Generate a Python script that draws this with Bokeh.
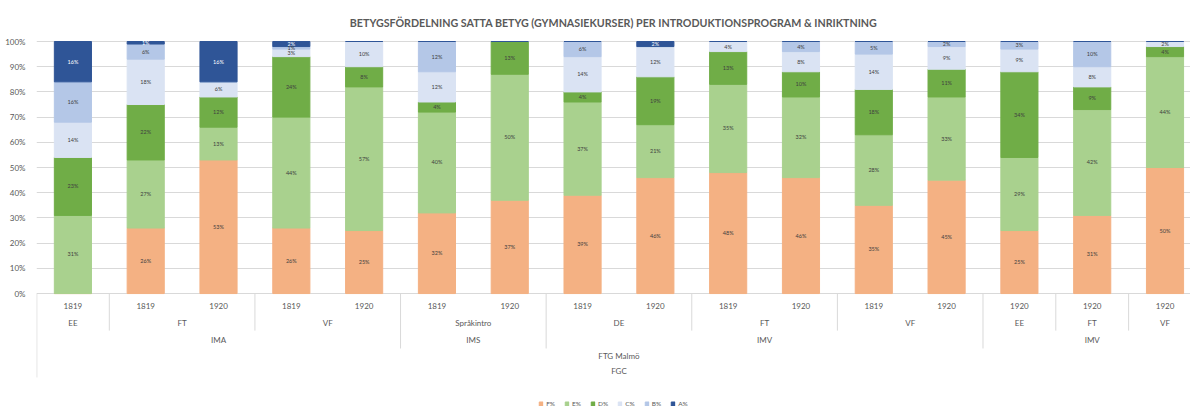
from bokeh.plotting import figure
from bokeh.models import ColumnDataSource, Range1d, FixedTicker, PrintfTickFormatter, Legend, LegendItem
from bokeh.core.properties import value
from bokeh.embed import file_html
from bokeh.resources import INLINE

TITLE = "BETYGSFÖRDELNING SATTA BETYG (GYMNASIEKURSER) PER INTRODUKTIONSPROGRAM & INRIKTNING"

# --- data -------------------------------------------------------------
years = ["1819", "1819", "1920", "1819", "1920", "1819", "1920", "1819",
         "1920", "1819", "1920", "1819", "1920", "1920", "1920", "1920"]
inriktning = [("EE", 1), ("FT", 2), ("VF", 2), ("Språkintro", 2), ("DE", 2),
              ("FT", 2), ("VF", 2), ("EE", 1), ("FT", 1), ("VF", 1)]
program = [("IMA", 5), ("IMS", 2), ("IMV", 6), ("IMV", 3)]
skola = [("FTG Malmö", 16)]
huvudman = [("FGC", 16)]

grades = ["F%", "E%", "D%", "C%", "B%", "A%"]
F = [0, 26, 53, 26, 25, 32, 37, 39, 46, 48, 46, 35, 45, 25, 31, 50]
E = [31, 27, 13, 44, 57, 40, 50, 37, 21, 35, 32, 28, 33, 29, 42, 44]
D = [23, 22, 12, 24, 8, 4, 13, 4, 19, 13, 10, 18, 11, 34, 9, 4]
C = [14, 18, 6, 3, 10, 12, 0, 14, 12, 4, 8, 14, 9, 9, 8, 2]
B = [16, 6, 0, 1, 0, 12, 0, 6, 0, 0, 4, 5, 2, 3, 10, 0]
A = [16, 1, 16, 2, 0, 0, 0, 0, 2, 0, 0, 0, 0, 0, 0, 0]

colors = ["#F4B183", "#A9D18E", "#70AD47", "#DAE3F3", "#B4C7E7", "#2F5597"]
label_colors = ["#404040", "#404040", "#404040", "#404040", "#404040", "#FFFFFF"]

FONT = "Lato"
GRAY = "#595959"
LINE = "#D9D9D9"

# --- figure -----------------------------------------------------------
n = len(years)
xs = [i + 0.5 for i in range(n)]
keys = ["F", "E", "D", "C", "B", "A"]
series = [F, E, D, C, B, A]
src = ColumnDataSource(dict(x=xs, **{k: s for k, s in zip(keys, series)}))

p = figure(width=1190, height=410,
           x_range=Range1d(0, 15.85), y_range=Range1d(-46.4, 100.4),
           output_backend="svg", toolbar_location=None,
           min_border_left=36, min_border_right=0,
           min_border_top=40, min_border_bottom=0)
p.outline_line_color = None
p.background_fill_color = "white"
p.border_fill_color = "white"

p.title.text = TITLE
p.title.align = "center"
p.title.vertical_align = "top"
p.title.text_font = FONT
p.title.text_font_size = "10.7px"
p.title.text_font_style = "bold"
p.title.text_color = GRAY
p.title.standoff = 20

p.xaxis.visible = False
p.xgrid.visible = False

ticks = list(range(0, 101, 10))
p.yaxis.ticker = FixedTicker(ticks=ticks)
p.ygrid.ticker = FixedTicker(ticks=ticks)
p.yaxis.formatter = PrintfTickFormatter(format="%d%%")
p.yaxis.axis_line_color = None
p.yaxis.major_tick_line_color = None
p.yaxis.minor_tick_line_color = None
p.yaxis.major_label_text_font = FONT
p.yaxis.major_label_text_font_size = "8px"
p.yaxis.major_label_text_color = GRAY
p.yaxis.major_label_standoff = 5
p.ygrid.grid_line_color = LINE

# separators of the category axis
def bounds(groups):
    out, c = [], 0
    for _, k in groups:
        c += k
        out.append(c)
    return out

def centers(groups):
    out, c = [], 0
    for _, k in groups:
        out.append(c + k / 2)
        c += k
    return out

prog_b = [b for b in bounds(program) if b < n]
inr_b = [b for b in bounds(inriktning) if b < n and b not in prog_b]
sx = [0.004] + prog_b + inr_b
sy = [-33.3] + [-21.8] * len(prog_b) + [-14.7] * len(inr_b)
p.segment(x0=sx, y0=[0] * len(sx), x1=sx, y1=sy, line_color=LINE, line_width=1)

renderers = p.vbar_stack(keys, x="x", width=0.51, color=colors, source=src)

# data labels
lx, ly, lt, lc = [], [], [], []
for i in range(n):
    base = 0
    for k, s in enumerate(series):
        v = s[i]
        if v > 0:
            lx.append(xs[i]); ly.append(base + v / 2)
            lt.append(f"{v}%"); lc.append(label_colors[k])
        base += v
p.text(x=lx, y=ly, text=lt, text_color=lc, text_font=value(FONT),
       text_font_size="5.5px", text_align="center", text_baseline="middle")

# category labels (5 levels)
row_y = [-4.8, -11.5, -18.25, -24.6, -30.6]
rows = [
    (xs, years),
    (centers(inriktning), [g for g, _ in inriktning]),
    (centers(program), [g for g, _ in program]),
    (centers(skola), [g for g, _ in skola]),
    (centers(huvudman), [g for g, _ in huvudman]),
]
for (cx, labels), yy in zip(rows, row_y):
    p.text(x=cx, y=[yy] * len(cx), text=labels, text_color=GRAY,
           text_font=value(FONT), text_font_size="8px",
           text_align="center", text_baseline="middle")

legend = Legend(items=[LegendItem(label=g, renderers=[r]) for g, r in zip(grades, renderers)],
                orientation="horizontal", location="bottom_center",
                label_text_font=FONT, label_text_font_size="6.5px", label_text_color=GRAY,
                glyph_width=5, glyph_height=5, label_height=8, label_width=8,
                label_standoff=3, spacing=9, padding=0, margin=3,
                background_fill_alpha=0, border_line_color=None)
p.add_layout(legend)

open("out.html", "w").write(file_html(p, INLINE))
